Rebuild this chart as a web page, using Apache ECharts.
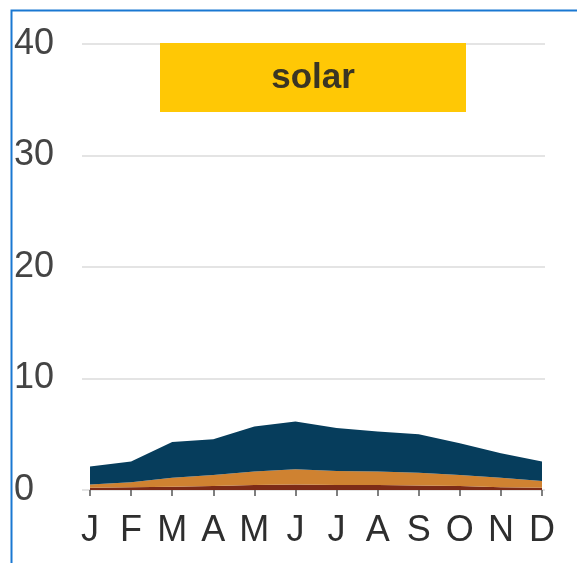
<!DOCTYPE html>
<html>
<head>
<meta charset="utf-8">
<script src="https://cdn.jsdelivr.net/npm/echarts@6/dist/echarts.min.js"></script>
<style>
html,body{margin:0;padding:0;background:#fff;}
#c{width:577px;height:563px;}
</style>
</head>
<body>
<div id="c"></div>
<script>
const months = ['J','F','M','A','M','J','J','A','S','O','N','D'];
const yTicks = [0, 10, 20, 30, 40];
const darkRed = [0.2, 0.25, 0.3, 0.35, 0.45, 0.5, 0.45, 0.45, 0.4, 0.35, 0.25, 0.2];
const orange = [0.3, 0.45, 0.8, 1.0, 1.2, 1.35, 1.25, 1.2, 1.15, 1.0, 0.85, 0.6];
const navy = [1.6, 1.85, 3.2, 3.2, 4.05, 4.3, 3.85, 3.6, 3.45, 2.85, 2.2, 1.75];
const title = 'solar';

const chart = echarts.init(document.getElementById('c'), null, {renderer: 'canvas'});
const font = '"Liberation Sans", Arial, sans-serif';
function area(name, data, color) {
  return {
    name: name, type: 'line', stack: 'total', data: data,
    xAxisIndex: 0, yAxisIndex: 0,
    symbol: 'none', smooth: false,
    lineStyle: {width: 0},
    areaStyle: {color: color, opacity: 1},
    itemStyle: {color: color},
    z: 3
  };
}
chart.setOption({
  animation: false,
  backgroundColor: '#ffffff',
  grid: [
    {left: 90, right: 35, top: 44, bottom: 73},
    {left: 82, right: 32, top: 44, bottom: 73}
  ],
  xAxis: [
    {
      type: 'category', gridIndex: 0, data: months, boundaryGap: false,
      axisLine: {show: false},
      axisTick: {show: true, length: 6, lineStyle: {color: '#555', width: 1.5}},
      axisLabel: {fontSize: 36, color: '#2e2e2e', margin: 23, fontFamily: font, interval: 0},
      splitLine: {show: false}
    },
    {
      type: 'value', gridIndex: 1, show: false, min: 0, max: 1
    }
  ],
  yAxis: [
    {type: 'value', gridIndex: 0, min: yTicks[0], max: yTicks[yTicks.length - 1], interval: 10, show: false},
    {
      type: 'value', gridIndex: 1, min: yTicks[0], max: yTicks[yTicks.length - 1], interval: 10,
      axisLine: {show: false}, axisTick: {show: false},
      splitLine: {show: true, lineStyle: {color: '#e4e4e4', width: 2}},
      axisLabel: {
        fontSize: 36, color: '#444', fontFamily: font, align: 'left', margin: 68,
        padding: [0, 0, 6, 0],
        formatter: function (v) { return yTicks.indexOf(v) >= 0 ? String(v) : ''; }
      }
    }
  ],
  series: [
    area('dark', darkRed, '#7d2b17'),
    area('mid', orange, '#cf8231'),
    area('top', navy, '#063d5c')
  ],
  graphic: [
    {
      type: 'rect', left: 9, top: 8, z: 100,
      shape: {x: 0, y: 0, width: 620, height: 620},
      style: {fill: 'none', stroke: '#1a78d2', lineWidth: 2}
    },
    {
      type: 'rect', z: 50,
      shape: {x: 160, y: 43, width: 306, height: 69},
      style: {fill: '#ffc805'}
    },
    {
      type: 'text', z: 51, x: 313, y: 78,
      style: {text: title, fontSize: 35, fontWeight: 'bold', fill: '#3a3524', fontFamily: font, textAlign: 'center', textVerticalAlign: 'middle'}
    }
  ]
});
</script>
</body>
</html>
